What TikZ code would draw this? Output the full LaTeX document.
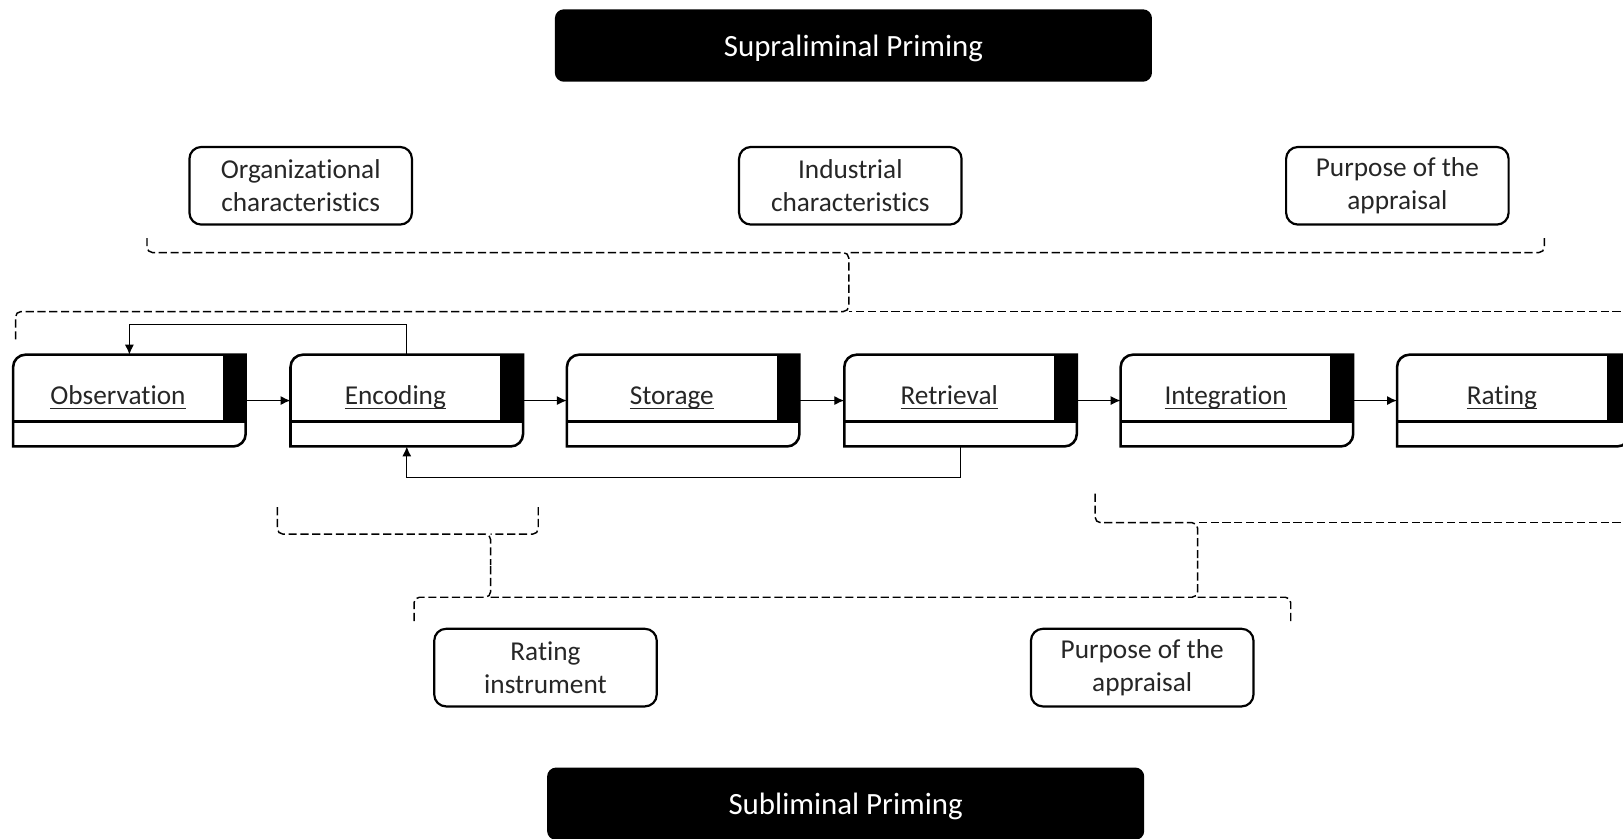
\documentclass[tikz,border=0pt]{standalone}
\usepackage{fontspec}
\setmainfont{Carlito}[Ligatures={NoCommon,NoContextual}]
\usepackage{tikz}
\usetikzlibrary{arrows.meta, calc}
\definecolor{labelgray}{RGB}{38, 38, 38}
\tikzstyle{primebox} = [rectangle, fill=black, text=white, rounded corners=5pt, minimum width=11.54cm, minimum height=1.4cm, text height=12.8pt, text depth=0.8pt, font=\fontsize{17}{20}\selectfont]
\tikzstyle{factor} = [rectangle, draw=black, text=labelgray, align=center, rounded corners=6.5pt, minimum width=4.3cm, minimum height=1.5cm, line width=1.2pt, font=\fontsize{15}{18}\selectfont]
\tikzstyle{stagebox} = [rectangle, minimum width=4.48cm, minimum height=1.76cm, inner sep=0pt]
\tikzstyle{stageline} = [line width=1.4pt]
\tikzstyle{stagelabel} = [text=labelgray, inner sep=0pt, anchor=base, font=\fontsize{15}{18}\selectfont]
\tikzstyle{arrow} = [-{Latex[length=5.5pt, width=5pt]}, line width=0.7pt]
\tikzstyle{bracket} = [dash pattern=on 4.5pt off 2pt, line width=0.8pt, rounded corners=3pt]

% underline at a fixed depth, crossing the descenders
\newcommand{\stageul}[1]{{\setbox0\hbox{#1}\rlap{\rule[-2.6pt]{\wd0}{0.65pt}}\box0}}

% one process stage: name, x, label
\newcommand{\procstage}[3]{%
  \node[stagebox] (#1) at (#2, 423) {};
  \fill ($(#1.north east)+(-22,0)$) rectangle ($(#1.south east)+(0,24)$);
  \draw[stageline] (#1.south west) -- ($(#1.north west)+(0,-12)$)
    arc[start angle=180, end angle=90, radius=12] -- (#1.north east)
    -- ($(#1.south east)+(0,12)$) arc[start angle=0, end angle=-90, radius=12] -- cycle;
  \draw[stageline] ($(#1.south west)+(0,24)$) -- ($(#1.south east)+(0,24)$);
  \node[stagelabel] (#1-label) at ($(#1.center)+(-11,-4)$) {\stageul{#3}};
}

\begin{document}
\begin{tikzpicture}[x=0.02cm, y=0.02cm]
    \useasboundingbox (0,0) rectangle (1568,810);

    % Priming headers
    \node[primebox] (supra) at (824.5, 766) {Supraliminal Priming};
    \node[primebox] (subli) at (817, 33.5) {Subliminal Priming};

    % Supraliminal factors
    \node[factor] (orgchar) at (290.5, 630.5) {Organizational\\characteristics};
    \node[factor] (indchar) at (821.5, 630.5) {Industrial\\characteristics};
    \node[factor] (purpsup) at (1350, 630.5) {Purpose of the\\appraisal};

    % Subliminal factors
    \node[factor] (instr) at (527, 165) {Rating\\instrument};
    \node[factor] (purpsub) at (1103.5, 165) {Purpose of the\\appraisal};

    % Rating process
    \procstage{obs}{125}{Observation}
    \procstage{enc}{393}{Encoding}
    \procstage{sto}{660}{Storage}
    \procstage{ret}{928}{Retrieval}
    \procstage{integ}{1195}{Integration}
    \procstage{rat}{1462}{Rating}

    \draw[arrow] (obs.east) -- (enc.west);
    \draw[arrow] (enc.east) -- (sto.west);
    \draw[arrow] (sto.east) -- (ret.west);
    \draw[arrow] (ret.east) -- (integ.west);
    \draw[arrow] (integ.east) -- (rat.west);

    % Feedback loops
    \draw[arrow] (enc.north) -- ++(0,29) -| (obs.north);
    \draw[arrow] (ret.south) -- ++(0,-30) -| (enc.south);

    % Brackets above the process
    \draw[bracket] (142,580) -- (142,566) -- (820,566) -- (820,538);
    \draw[bracket] (1492,580) -- (1492,566) -- (820,566);
    \draw[bracket] (15,482) -- (15,509) -- (820,509) -- (820,538);
    \draw[bracket] (1600,509) -- (820,509);

    % Brackets below the process
    \draw[bracket] (268,320) -- (268,294) -- (474,294) -- (474,264);
    \draw[bracket] (520,320) -- (520,294) -- (474,294);
    \draw[bracket] (1058,333) -- (1058,305) -- (1157,305) -- (1157,270);
    \draw[bracket] (1600,305) -- (1157,305);
    \draw[bracket] (400,210) -- (400,233) -- (474,233) -- (474,264);
    \draw[bracket] (474,233) -- (1157,233) -- (1157,270);
    \draw[bracket] (1247,210) -- (1247,233) -- (1157,233);
\end{tikzpicture}
\end{document}
